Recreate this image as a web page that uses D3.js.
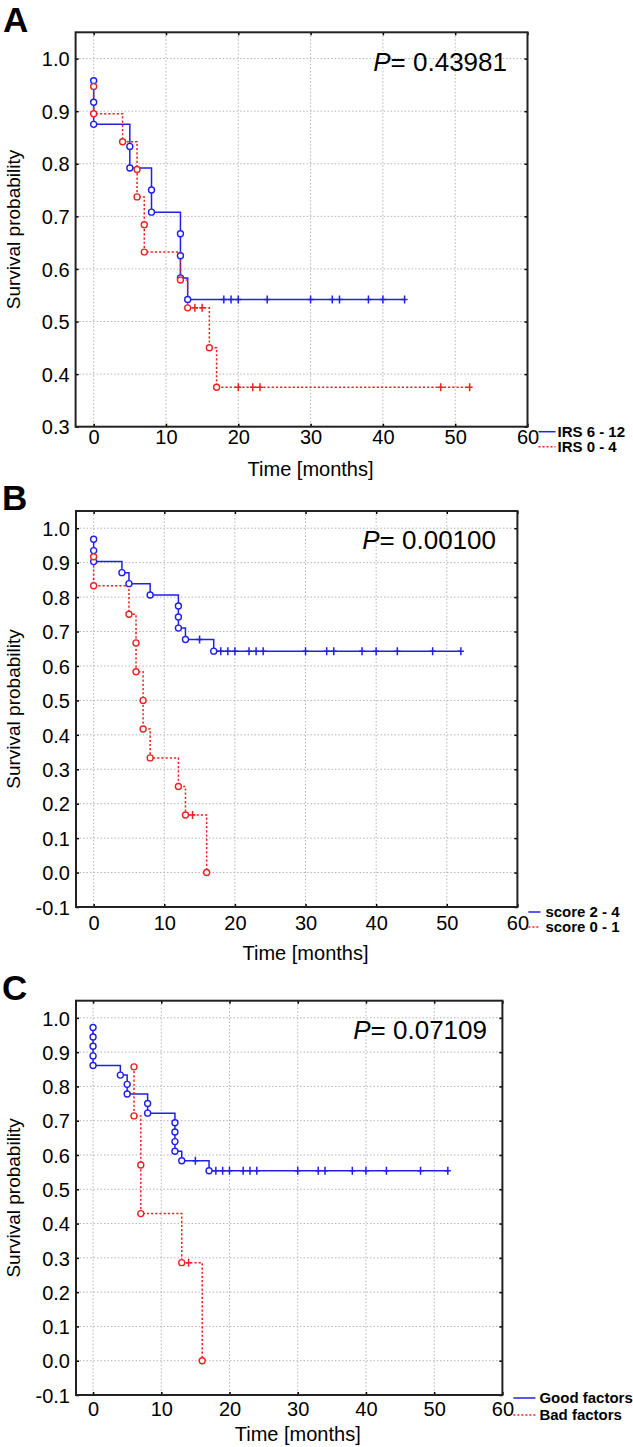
<!DOCTYPE html>
<html><head><meta charset="utf-8">
<script src="https://cdn.jsdelivr.net/npm/d3@7/dist/d3.min.js"></script>
<style>
body{margin:0;background:#fff;}
text{font-family:"Liberation Sans",Arial,Helvetica,sans-serif;fill:#000;}
</style>
</head><body>
<svg id="chart" width="633" height="1447"></svg>
<script>
// ---------- tick labels ----------
const xTicks = [0, 10, 20, 30, 40, 50, 60];
const yTicksA = [0.3, 0.4, 0.5, 0.6, 0.7, 0.8, 0.9, 1.0];
const yTicksBC = [-0.1, 0.0, 0.1, 0.2, 0.3, 0.4, 0.5, 0.6, 0.7, 0.8, 0.9, 1.0];

// ---------- panel A : IRS ----------
const aBlueTimes = [0, 0, 0, 5, 5, 8, 8, 12, 12, 12, 13];
const aBlueSurv  = [0.958, 0.917, 0.875, 0.833, 0.792, 0.750, 0.708, 0.667, 0.625, 0.583, 0.542];
const aBlueCensor = [18, 19, 20, 24, 30, 33, 34, 38, 40, 43];
const aRedTimes = [0, 0, 4, 6, 6, 7, 7, 12, 13, 16, 17];
const aRedSurv  = [0.947, 0.895, 0.842, 0.789, 0.737, 0.684, 0.632, 0.579, 0.526, 0.450, 0.375];
const aRedCensor = [14, 15, 20, 22, 23, 48, 52];
const aLegend = ["IRS 6 - 12", "IRS 0 - 4"];

// ---------- panel B : score ----------
const bBlueTimes = [0, 0, 0, 4, 5, 8, 12, 12, 12, 13, 17];
const bBlueSurv  = [0.968, 0.935, 0.903, 0.871, 0.839, 0.806, 0.774, 0.742, 0.710, 0.677, 0.643];
const bBlueCensor = [15, 18, 19, 20, 22, 23, 24, 30, 33, 34, 38, 40, 43, 48, 52];
const bRedTimes = [0, 0, 5, 6, 6, 7, 7, 8, 12, 13, 16];
const bRedSurv  = [0.917, 0.833, 0.750, 0.667, 0.583, 0.500, 0.417, 0.333, 0.250, 0.167, 0.000];
const bRedCensor = [14];
const bLegend = ["score 2 - 4", "score 0 - 1"];

// ---------- panel C : factors ----------
const cBlueTimes = [0, 0, 0, 0, 0, 4, 5, 5, 8, 8, 12, 12, 12, 12, 13, 17];
const cBlueSurv  = [0.972, 0.944, 0.917, 0.889, 0.861, 0.833, 0.806, 0.778, 0.750, 0.722, 0.694, 0.667, 0.639, 0.611, 0.583, 0.554];
const cBlueCensor = [15, 18, 19, 20, 22, 23, 24, 30, 33, 34, 38, 40, 43, 48, 52];
const cRedTimes = [6, 6, 7, 7, 13, 16];
const cRedSurv  = [0.857, 0.714, 0.571, 0.429, 0.286, 0.000];
const cRedCensor = [14];
const cLegend = ["Good factors", "Bad factors"];

const pValues = ["0.43981", "0.00100", "0.07109"];
const panelLetters = ["A", "B", "C"];
const xTitle = "Time [months]";
const yTitle = "Survival probability";

// ---------- layout (positions / styles only) ----------
const BLUE = "#2020e8", RED = "#ee2222";
const layouts = [
  {L:75.6, T:32.3, R:527.5, B:426.7, yDom:[0.3,1.05], yTicks:yTicksA, xLabY:17, xTitleY:49,
   pX:507, pY:70.5, letX:3, letY:32, legLen:17, legTx:30, legY:[5,20]},
  {L:76, T:511, R:517.4, B:907, yDom:[-0.1,1.05], yTicks:yTicksBC, xLabY:23, xTitleY:53,
   pX:496, pY:548.5, letX:2, letY:510, legLen:12, legTx:28, legY:[5,20]},
  {L:76, T:1000.7, R:502.4, B:1395, yDom:[-0.1,1.05], yTicks:yTicksBC, xLabY:21, xTitleY:46,
   pX:487, pY:1038.5, letX:2, letY:1000, legLen:22, legTx:37, legY:[3,20]}
];
const seriesSets = [
  {blue:[aBlueTimes,aBlueSurv,aBlueCensor], red:[aRedTimes,aRedSurv,aRedCensor], legend:aLegend},
  {blue:[bBlueTimes,bBlueSurv,bBlueCensor], red:[bRedTimes,bRedSurv,bRedCensor], legend:bLegend},
  {blue:[cBlueTimes,cBlueSurv,cBlueCensor], red:[cRedTimes,cRedSurv,cRedCensor], legend:cLegend}
];

const svg = d3.select("#chart");

function survAt(times, surv, t){
  let v = surv[0];
  for (let i=0;i<times.length;i++){ if (times[i] <= t) v = surv[i]; }
  return v;
}

function drawCurve(g, x, y, times, surv, censor, color, dashed){
  const pts = times.map((t,i)=>[t, surv[i]]);
  const endT = Math.max(times[times.length-1], ...(censor.length?censor:[0]));
  if (endT > times[times.length-1]) pts.push([endT, surv[surv.length-1]]);
  const line = d3.line().x(d=>x(d[0])).y(d=>y(d[1])).curve(d3.curveStepAfter);
  g.append("path").attr("d", line(pts)).attr("fill","none").attr("stroke",color)
    .attr("stroke-width",1.5).attr("stroke-dasharray", dashed ? "2.2,2" : null);
  return {times, surv, censor, color};
}

function drawMarks(g, x, y, s){
  g.selectAll(null).data(s.censor).join("path")
    .attr("d", c => { const cx=x(c), cy=y(survAt(s.times,s.surv,c));
      return `M${cx},${cy-4}V${cy+4}M${cx-3},${cy}H${cx+3}`; })
    .attr("stroke", s.color).attr("stroke-width",1.5).attr("fill","none");
  g.selectAll(null).data(s.times.map((t,i)=>[t,s.surv[i]])).join("circle")
    .attr("cx", d=>x(d[0])).attr("cy", d=>y(d[1])).attr("r",3)
    .attr("fill","#fff").attr("stroke", s.color).attr("stroke-width",1.4);
}

layouts.forEach((cfg, k) => {
  const g = svg.append("g");
  const x = d3.scaleLinear().domain([-2.5, 60]).range([cfg.L, cfg.R]);
  const y = d3.scaleLinear().domain(cfg.yDom).range([cfg.B, cfg.T]);

  // grid
  g.selectAll(null).data(xTicks.filter(t => x(t) < cfg.R - 2)).join("line")
    .attr("x1", d=>x(d)).attr("x2", d=>x(d)).attr("y1", cfg.T).attr("y2", cfg.B)
    .attr("stroke","#b5b5b5").attr("stroke-width",1).attr("stroke-dasharray","1.5,2");
  g.selectAll(null).data(cfg.yTicks.filter(v => y(v) < cfg.B - 2)).join("line")
    .attr("y1", d=>y(d)).attr("y2", d=>y(d)).attr("x1", cfg.L).attr("x2", cfg.R)
    .attr("stroke","#b5b5b5").attr("stroke-width",1).attr("stroke-dasharray","1.5,2");

  // axes
  const fmtY = d => d.toFixed(1);
  const gb = g.append("g").attr("transform",`translate(0,${cfg.B})`)
    .call(d3.axisBottom(x).tickValues(xTicks).tickSize(-3).tickFormat(d3.format("d")));
  gb.selectAll("text").attr("y", cfg.xLabY).attr("dy", 0).attr("font-size", 20);
  const gl = g.append("g").attr("transform",`translate(${cfg.L},0)`)
    .call(d3.axisLeft(y).tickValues(cfg.yTicks).tickSize(-3).tickPadding(6).tickFormat(fmtY));
  gl.selectAll("text").attr("font-size", 20).attr("dy","0.36em");
  const gt = g.append("g").attr("transform",`translate(0,${cfg.T})`)
    .call(d3.axisTop(x).tickValues(xTicks).tickSize(-3).tickFormat(""));
  const gr = g.append("g").attr("transform",`translate(${cfg.R},0)`)
    .call(d3.axisRight(y).tickValues(cfg.yTicks).tickSize(-3).tickFormat(""));
  [gb,gl,gt,gr].forEach(a => {
    a.select(".domain").remove();
    a.selectAll("line").attr("stroke","#000").attr("stroke-width",1.5);
    a.attr("font-family", null).attr("font-size", null);
  });

  // frame
  g.append("rect").attr("x",cfg.L).attr("y",cfg.T).attr("width",cfg.R-cfg.L).attr("height",cfg.B-cfg.T)
    .attr("fill","none").attr("stroke","#222").attr("stroke-width",2);

  // curves
  const ss = seriesSets[k];
  const sb = drawCurve(g, x, y, ss.blue[0], ss.blue[1], ss.blue[2], BLUE, false);
  const sr = drawCurve(g, x, y, ss.red[0], ss.red[1], ss.red[2], RED, true);
  drawMarks(g, x, y, sb);
  drawMarks(g, x, y, sr);

  // titles
  g.append("text").attr("x", (x(0)+x(60))/2).attr("y", cfg.B + cfg.xTitleY)
    .attr("text-anchor","middle").attr("font-size",20).text(xTitle);
  g.append("text").attr("transform",`translate(20,${(cfg.T+cfg.B)/2}) rotate(-90)`)
    .attr("text-anchor","middle").attr("font-size",19).text(yTitle);

  // P value
  const pt = g.append("text").attr("x", cfg.pX).attr("y", cfg.pY).attr("text-anchor","end").attr("font-size",26);
  pt.append("tspan").attr("font-style","italic").text("P");
  pt.append("tspan").text("= " + pValues[k]);

  // panel letter
  g.append("text").attr("x", cfg.letX).attr("y", cfg.letY).attr("font-size",35)
    .attr("font-weight","bold").text(panelLetters[k]);

  // legend
  const lx = cfg.R + 11;
  [BLUE, RED].forEach((col, i) => {
    const ly = cfg.B + cfg.legY[i];
    g.append("line").attr("x1", lx).attr("x2", lx + cfg.legLen).attr("y1", ly).attr("y2", ly)
      .attr("stroke", col).attr("stroke-width", 1.5).attr("stroke-dasharray", i ? "2,2" : null);
    g.append("text").attr("x", cfg.R + cfg.legTx).attr("y", ly + 5)
      .attr("font-size", 15).attr("font-weight","bold").text(ss.legend[i]);
  });
});
</script>
</body></html>
